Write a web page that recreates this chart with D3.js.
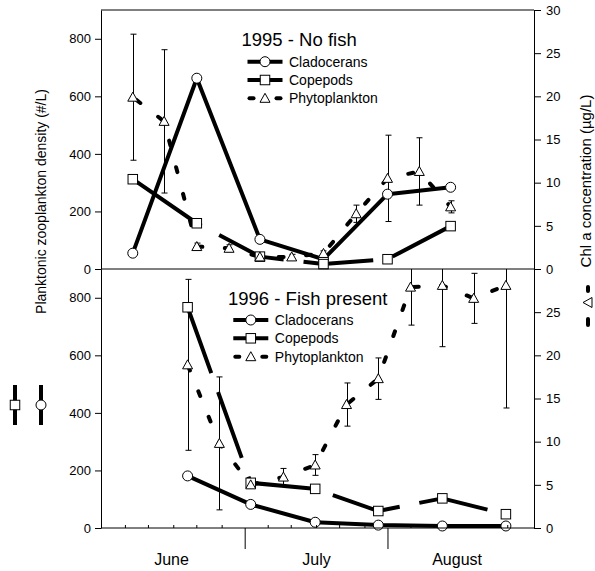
<!DOCTYPE html>
<html>
<head>
<meta charset="utf-8">
<script src="https://cdn.jsdelivr.net/npm/d3@7"></script>
<style>
  body { margin: 0; background: #fff; }
  svg { display: block; font-family: "Liberation Sans", Arial, sans-serif; }
</style>
</head>
<body>
<div id="chart"></div>
<script>
// sampling dates as day of year
var days95 = [157.6, 164.4, 171.5, 178.5, 185.2, 192.1, 199.0, 206.1, 212.9, 219.8, 226.6];
var zooDays95 = [157.6, 171.5, 185.2, 199.0, 212.9, 226.6];
var clado95 = [55, 663, 103, 34, 260, 284];
var cope95 = [312, 159, 43, 17, 34, 149];
var phyto95 = [19.9, 17.1, 2.6, 2.4, 1.4, 1.4, 1.8, 6.4, 10.5, 11.3, 7.2];
var phytoErr95 = [7.3, 8.3, 0.4, 0.4, 0.3, 0.3, 0.3, 1.0, 5.0, 3.9, 0.7];

var days96 = [169.5, 176.4, 183.2, 190.3, 197.2, 204.0, 210.9, 217.9, 224.8, 231.6, 238.6];
var zooDays96 = [169.5, 183.2, 197.2, 210.9, 224.8, 238.6];
var clado96 = [181, 82, 20, 10, 7, 7];
var cope96 = [767, 157, 136, 59, 103, 48];
var phyto96 = [18.9, 9.8, 5.0, 5.9, 7.3, 14.3, 17.3, 27.9, 28.1, 26.6, 28.1];
var phytoErr96 = [9.9, 7.7, 0.3, 1.0, 1.2, 2.5, 2.4, 4.4, 7.1, 2.9, 14.2];

// axis stuff
var months = ["June", "July", "August"];
var monthMids = [166, 197.5, 228];
var monthBreaks = [182, 213];
var minorDays = [156, 161, 166.5, 171.5, 177, 187, 192, 197.5, 202.5, 208, 218, 223, 228.5, 233.5, 239];
var zooTicks = [0, 200, 400, 600, 800];
var chlTicks95 = [0, 5, 10, 15, 20, 25, 30];
var chlTicks96 = [0, 5, 10, 15, 20, 25];
var seriesNames = ["Cladocerans", "Copepods", "Phytoplankton"];

var W = 595, H = 571;
// plot edges (note: "top" is taken by window.top, so prefix them)
var pLeft = 101, pRight = 534, pTop = 10, pMid = 269, pBottom = 528;

var svg = d3.select("#chart").append("svg")
    .attr("width", W)
    .attr("height", H);

svg.append("rect").attr("width", W).attr("height", H).attr("fill", "#fff");

var x = d3.scaleLinear().domain([150.7, 244.7]).range([pLeft, pRight]);

var panels = [
    {id: "p95", y0: pTop, y1: pMid, days: days95, zooDays: zooDays95, clado: clado95, cope: cope95,
     phyto: phyto95, err: phytoErr95, chlTicks: chlTicks95,
     copeDash: "83,20,70,20,70,20,70,20", copeOffset: 0, phytoOffset: -4.5,
     title: "1995 - No fish", titleX: 241.5, titleY: 46, legX: 247.5, legY: [61.7, 80, 98.3]},
    {id: "p96", y0: pMid, y1: pBottom, days: days96, zooDays: zooDays96, clado: clado96, cope: cope96,
     phyto: phyto96, err: phytoErr96, chlTicks: chlTicks96,
     copeDash: "70,20", copeOffset: 0, phytoOffset: -1.1,
     title: "1996 - Fish present", titleX: 228, titleY: 304.5, legX: 233.3, legY: [320, 338.3, 356.7]}
];

// marker shapes
function triPath(s) { return "M0," + (-5 * s) + "L" + (5 * s) + "," + (4 * s) + "L" + (-5 * s) + "," + (4 * s) + "Z"; }

function addCircle(g, cx, cy) {
    g.append("circle").attr("cx", cx).attr("cy", cy).attr("r", 5)
        .attr("fill", "#fff").attr("stroke", "#000").attr("stroke-width", 1);
}
function addSquare(g, cx, cy) {
    g.append("rect").attr("x", cx - 4.75).attr("y", cy - 4.75).attr("width", 9.5).attr("height", 9.5)
        .attr("fill", "#fff").attr("stroke", "#000").attr("stroke-width", 1);
}
function addTri(g, cx, cy, rot) {
    g.append("path").attr("d", triPath(1))
        .attr("transform", "translate(" + cx + "," + cy + ")" + (rot ? " rotate(" + rot + ")" : ""))
        .attr("fill", "#fff").attr("stroke", "#000").attr("stroke-width", 1);
}

panels.forEach(function(p) {
    var zooY = d3.scaleLinear().domain([0, 900]).range([p.y1, p.y0]);
    var chlY = d3.scaleLinear().domain([0, 30]).range([p.y1, p.y0]);

    svg.append("clipPath").attr("id", "clip-" + p.id)
        .append("rect").attr("x", pLeft).attr("y", p.y0).attr("width", pRight - pLeft).attr("height", p.y1 - p.y0);

    var g = svg.append("g").attr("clip-path", "url(#clip-" + p.id + ")");

    // error bars first
    var phytoPts = p.days.map(function(d, i) { return [d, p.phyto[i], p.err[i]]; });
    var eb = g.append("g").attr("stroke", "#000").attr("stroke-width", 1);
    phytoPts.forEach(function(d) {
        var xx = Math.round(x(d[0])) + 0.5;
        var yHi = chlY(d[1] + d[2]), yLo = chlY(d[1] - d[2]);
        eb.append("line").attr("x1", xx).attr("x2", xx).attr("y1", yHi).attr("y2", yLo);
        eb.append("line").attr("x1", xx - 3).attr("x2", xx + 3).attr("y1", yHi).attr("y2", yHi);
        eb.append("line").attr("x1", xx - 3).attr("x2", xx + 3).attr("y1", yLo).attr("y2", yLo);
    });

    var cladoPts = p.zooDays.map(function(d, i) { return [d, p.clado[i]]; });
    var copePts = p.zooDays.map(function(d, i) { return [d, p.cope[i]]; });

    var zooLine = d3.line().x(function(d) { return x(d[0]); }).y(function(d) { return zooY(d[1]); });
    var chlLine = d3.line().x(function(d) { return x(d[0]); }).y(function(d) { return chlY(d[1]); });

    g.append("path").attr("d", chlLine(phytoPts))
        .attr("fill", "none").attr("stroke", "#000").attr("stroke-width", 4)
        .attr("stroke-linecap", "round")
        .attr("stroke-dasharray", "5,22.5").attr("stroke-dashoffset", p.phytoOffset);

    g.append("path").attr("d", zooLine(cladoPts))
        .attr("fill", "none").attr("stroke", "#000").attr("stroke-width", 4)
        .attr("stroke-linejoin", "round");

    g.append("path").attr("d", zooLine(copePts))
        .attr("fill", "none").attr("stroke", "#000").attr("stroke-width", 4)
        .attr("stroke-linejoin", "round")
        .attr("stroke-dasharray", p.copeDash).attr("stroke-dashoffset", p.copeOffset);

    // markers: circles, then squares, then triangles on top
    var mk = svg.append("g");
    cladoPts.forEach(function(d) { addCircle(mk, x(d[0]), zooY(d[1])); });
    copePts.forEach(function(d) { addSquare(mk, x(d[0]), zooY(d[1])); });
    phytoPts.forEach(function(d) { addTri(mk, x(d[0]), chlY(d[1])); });

    // axes
    var la = svg.append("g").attr("transform", "translate(" + pLeft + ",0)")
        .call(d3.axisLeft(zooY).tickValues(zooTicks).tickSize(6).tickPadding(4).tickSizeOuter(0));
    var ra = svg.append("g").attr("transform", "translate(" + pRight + ",0)")
        .call(d3.axisRight(chlY).tickValues(p.chlTicks).tickSize(7).tickPadding(5).tickSizeOuter(0));
    [la, ra].forEach(function(a) {
        a.attr("font-family", null).attr("font-size", 13);
        a.selectAll("text").attr("fill", "#000");
    });

    // legend
    var lg = svg.append("g");
    lg.append("text").attr("x", p.titleX).attr("y", p.titleY)
        .attr("font-size", 18.5).text(p.title);
    var lx0 = p.legX, lx1 = p.legX + 35, lxm = p.legX + 17.5;
    seriesNames.forEach(function(name, i) {
        var yy = p.legY[i];
        if (i < 2) {
            lg.append("line").attr("x1", lx0).attr("x2", lx1).attr("y1", yy).attr("y2", yy)
                .attr("stroke", "#000").attr("stroke-width", 4);
            if (i == 0) addCircle(lg, lxm, yy); else addSquare(lg, lxm, yy);
        } else {
            lg.append("line").attr("x1", lx0 + 2).attr("x2", lx0 + 6).attr("y1", yy).attr("y2", yy)
                .attr("stroke", "#000").attr("stroke-width", 4).attr("stroke-linecap", "round");
            lg.append("line").attr("x1", lx1 - 6).attr("x2", lx1 - 2).attr("y1", yy).attr("y2", yy)
                .attr("stroke", "#000").attr("stroke-width", 4).attr("stroke-linecap", "round");
            addTri(lg, lxm, yy);
        }
        lg.append("text").attr("x", lx1 + 6.5).attr("y", yy + 5)
            .attr("font-size", 14).text(name);
    });
});

// frame lines
[pTop, pMid, pBottom].forEach(function(yy) {
    svg.append("line").attr("x1", pLeft).attr("x2", pRight).attr("y1", yy).attr("y2", yy)
        .attr("stroke", "#000").attr("stroke-width", 1);
});

// month ticks and minor ticks on the bottom axis
monthBreaks.forEach(function(d) {
    svg.append("line").attr("x1", x(d)).attr("x2", x(d)).attr("y1", pBottom).attr("y2", pBottom + 21)
        .attr("stroke", "#000").attr("stroke-width", 1);
});
minorDays.forEach(function(d) {
    svg.append("line").attr("x1", x(d)).attr("x2", x(d)).attr("y1", pBottom).attr("y2", pBottom - 3)
        .attr("stroke", "#000").attr("stroke-width", 1);
});
months.forEach(function(m, i) {
    svg.append("text").attr("x", x(monthMids[i])).attr("y", 565)
        .attr("text-anchor", "middle").attr("font-size", 16).text(m);
});

// y titles
svg.append("text").attr("transform", "translate(45.5,201.5) rotate(-90)")
    .attr("text-anchor", "middle").attr("font-size", 14)
    .text("Planktonic zooplankton density (#/L)");
svg.append("text").attr("transform", "translate(591,181) rotate(-90)")
    .attr("text-anchor", "middle").attr("font-size", 15)
    .text("Chl a concentration (\u00b5g/L)");

// rotated legend keys beside the titles
var keys = svg.append("g");
[15, 41].forEach(function(kx, i) {
    keys.append("line").attr("x1", kx).attr("x2", kx).attr("y1", 385).attr("y2", 425)
        .attr("stroke", "#000").attr("stroke-width", 4);
    if (i == 0) addSquare(keys, kx, 405); else addCircle(keys, kx, 405);
});
keys.append("line").attr("x1", 588).attr("x2", 588).attr("y1", 287).attr("y2", 291)
    .attr("stroke", "#000").attr("stroke-width", 4).attr("stroke-linecap", "round");
keys.append("line").attr("x1", 588).attr("x2", 588).attr("y1", 319).attr("y2", 325)
    .attr("stroke", "#000").attr("stroke-width", 4).attr("stroke-linecap", "round");
addTri(keys, 588, 302.5, -90);
</script>
</body>
</html>
